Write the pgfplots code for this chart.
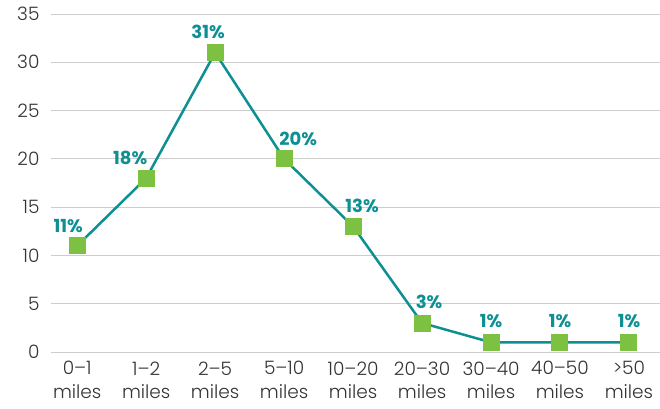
\documentclass[border=0pt]{standalone}
\usepackage{pgfplots}
\pgfplotsset{compat=1.18}
\usepackage{fontspec}
\setmainfont{Poppins}[UprightFont=* Light, BoldFont=* Bold]
\definecolor{teal1}{HTML}{0E8F93}
\definecolor{green1}{HTML}{7CC142}
\definecolor{grid1}{HTML}{CDCDCD}
\definecolor{txt}{HTML}{333333}
\begin{document}
\begin{tikzpicture}
\begin{axis}[
  name=ax,
  scale only axis,
  width=609pt, height=338pt,
  xmin=-0.38, xmax=8.45,
  ymin=0, ymax=35,
  ytick={0,5,...,35},
  xtick={0,...,8},
  xticklabels={{0--1\\miles},{1--2\\miles},{2--5\\miles},{5--10\\miles},{10--20\\miles},{20--30\\miles},{30--40\\miles},{40--50\\miles},{>50\\miles}},
  xticklabel style={align=center, font=\fontsize{18.5}{23.5}\selectfont, text=txt, yshift=-6pt},
  yticklabel style={font=\fontsize{18.5}{20}\selectfont, text=txt, xshift=-8pt},
  /pgf/number format/assume math mode=true,
  axis line style={draw=none},
  axis x line*=bottom,
  x axis line style={draw=grid1, line width=1pt},
  ymajorgrids,
  grid style={grid1, line width=1pt},
  major tick length=0pt,
  tick style={draw=none},
  clip=false,
]
\addplot[teal1, line width=2.5pt, mark=square*, mark size=8pt,
  mark options={fill=green1, draw=green1, line width=0pt},
  nodes near coords,
  point meta=explicit symbolic,
  visualization depends on={\thisrow{dx}\as\dx},
  visualization depends on={\thisrow{dy}\as\dy},
  nodes near coords style={anchor=center, xshift=\dx pt, yshift=\dy pt,
     font=\fontsize{18}{22}\selectfont\bfseries, text=teal1},
] table[x=x, y=y, meta=lab] {
x y lab dx dy
0 11 11\% -9 20
1 18 18\% -16 20
2 31 31\% -7 21
3 20 20\% 14 20
4 13 13\% 9 21
5 3 3\% 7 21
6 1 1\% 0 21
7 1 1\% 0 21
8 1 1\% 0 21
};
\end{axis}
\pgfresetboundingbox
\useasboundingbox ([shift={(-51pt,-56pt)}]ax.south west) rectangle ([shift={(0pt,14pt)}]ax.north east);
\end{tikzpicture}
\end{document}
